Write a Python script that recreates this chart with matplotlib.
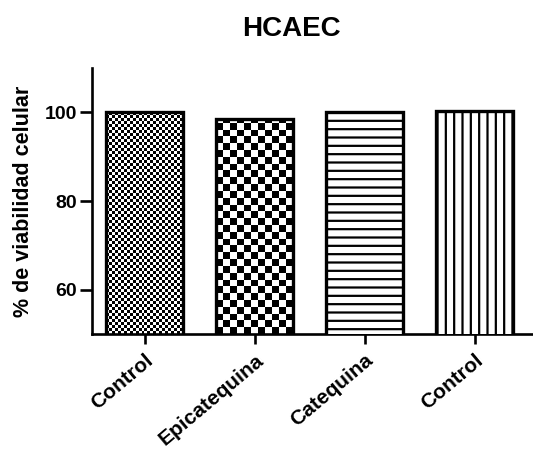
import numpy as np
import matplotlib
matplotlib.use('Agg')
from matplotlib import pyplot as plt

plt.rcParams['font.family'] = ['Liberation Sans', 'DejaVu Sans']
plt.rcParams['font.weight'] = 'bold'
plt.rcParams['hatch.linewidth'] = 1.6

# data
labels = ['Control', 'Epicatequina', 'Catequina', 'Control']
values = [100.0, 98.4, 100.0, 100.2]

W, H = 533, 451
fig = plt.figure(figsize=(W / 100, H / 100), dpi=100)
ax = fig.add_axes([92 / W, (H - 334) / H, (532 - 92) / W, (334 - 68) / H])

ax.set_xlim(-0.48, 3.52)
ax.set_ylim(50, 110)
x = np.arange(len(values))
width = 0.7

# fills: checkerboards for first two bars, line hatches for the others
cells = [3.0, 6.8, None, None]  # checker cell size in pixels
hatches = [None, None, '--', '||']
ax_w_px = (532 - 92)
ax_h_px = (334 - 68)
px_x = ax_w_px / 4.0   # pixels per x unit
px_y = ax_h_px / 60.0  # pixels per y unit

bars = ax.bar(x, values, width=width, color='white', edgecolor='black',
              linewidth=2.4, zorder=3)
for b, c, h in zip(bars, cells, hatches):
    x0, w = b.get_x(), b.get_width()
    top = b.get_height()
    if c is not None:
        nx = max(1, int(round(w * px_x / c)))
        ny = max(1, int(round((top - 50) * px_y / c)))
        arr = (np.indices((ny, nx)).sum(axis=0) % 2).astype(float)
        im = ax.imshow(arr, cmap='gray', interpolation='nearest', aspect='auto',
                       extent=(x0, x0 + w, 50, 50 + ny * c / px_y), origin='lower',
                       zorder=2)
        im.set_clip_path(b)
        b.set_facecolor('none')
    else:
        b.set_hatch(h)

ax.set_xlim(-0.48, 3.52)
ax.set_ylim(50, 110)

for s in ['top', 'right']:
    ax.spines[s].set_visible(False)
for s in ['left', 'bottom']:
    ax.spines[s].set_linewidth(1.9)

ax.set_yticks([60, 80, 100])
ax.tick_params(axis='y', width=1.9, length=9, labelsize=14, pad=2)
ax.tick_params(axis='x', width=1.9, length=7, labelsize=15, pad=5)
ax.set_xticks(x)
ax.set_xticklabels(labels, rotation=40, ha='right', rotation_mode='anchor',
                   fontweight='bold')
for t in ax.get_yticklabels():
    t.set_fontweight('bold')

ax.set_ylabel('% de viabilidad celular', fontsize=15.5, fontweight='bold')
ax.yaxis.set_label_coords(-58 / ax_w_px, 0.5)
fig.text(291 / W, 1 - 29 / H, 'HCAEC', ha='center', va='center',
         fontsize=20, fontweight='bold')

fig.savefig('out.png', dpi=100)
